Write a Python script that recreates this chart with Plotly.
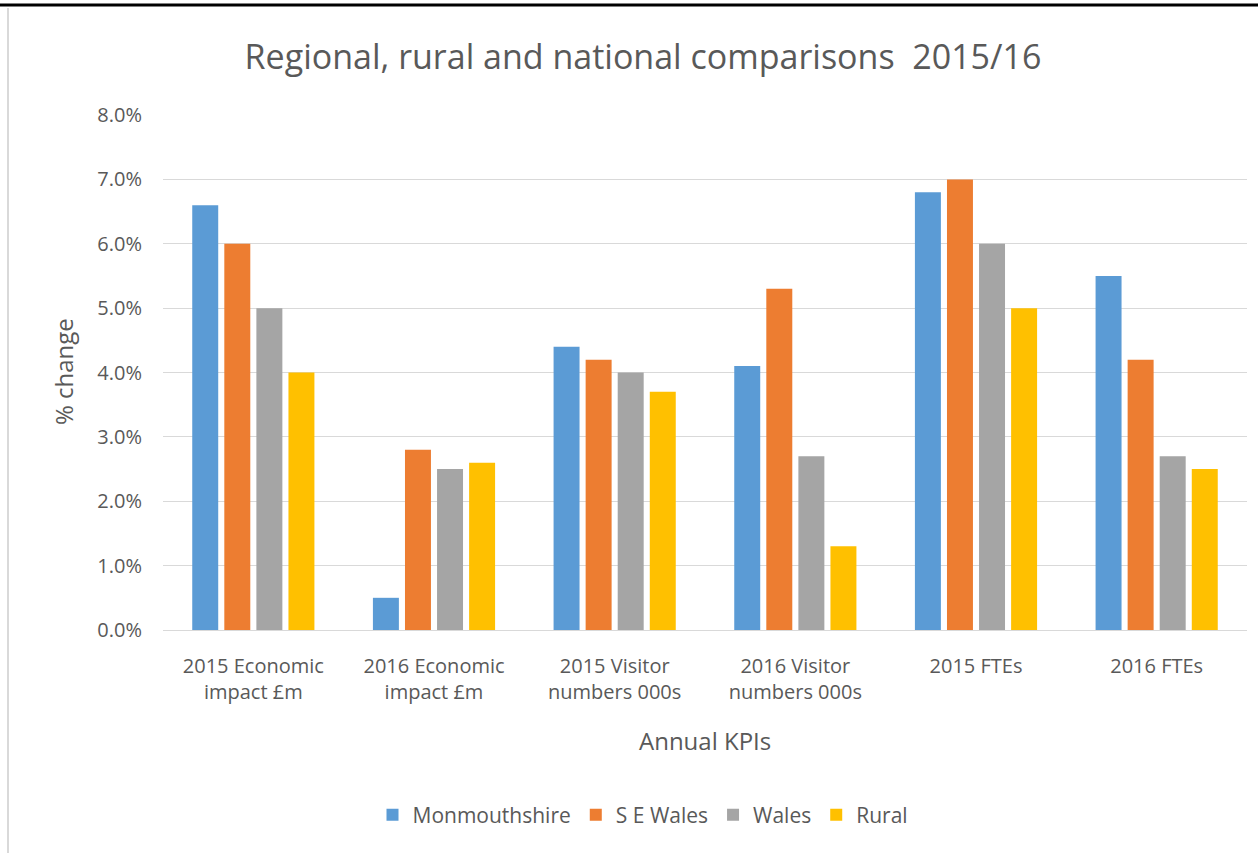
import plotly.graph_objects as go

categories = ["2015 Economic<br>impact £m", "2016 Economic<br>impact £m",
              "2015 Visitor<br>numbers 000s", "2016 Visitor<br>numbers 000s",
              "2015 FTEs", "2016 FTEs"]
monmouthshire = [6.6, 0.5, 4.4, 4.1, 6.8, 5.5]
se_wales = [6.0, 2.8, 4.2, 5.3, 7.0, 4.2]
wales = [5.0, 2.5, 4.0, 2.7, 6.0, 2.7]
rural = [4.0, 2.6, 3.7, 1.3, 5.0, 2.5]
series_names = ["Monmouthshire", "S E Wales", "Wales", "Rural"]
colors = ["#5B9BD5", "#ED7D31", "#A5A5A5", "#FFC000"]
y_ticks = [0, 1, 2, 3, 4, 5, 6, 7, 8]

FONT = "Open Sans, Liberation Sans, sans-serif"
TXT = "#595959"

fig = go.Figure()
for name, vals, col in zip(series_names, [monmouthshire, se_wales, wales, rural], colors):
    fig.add_trace(go.Bar(x=categories, y=vals, name=name, marker_color=col,
                         marker_line_width=0))

L, R, T, B = 163, 11, 115, 223
W, H = 1258, 853
pw = W - L - R
ph = H - T - B

fig.update_layout(
    width=W, height=H,
    margin=dict(l=L, r=R, t=T, b=B),
    paper_bgcolor="white", plot_bgcolor="white",
    barmode="group", bargap=0.29, bargroupgap=0.19,
    font=dict(family=FONT, color=TXT, size=20),
    title=dict(text="Regional, rural and national comparisons  2015/16",
               x=643 / W, xanchor="center", y=1 - 57 / H, yanchor="middle",
               font=dict(size=34, color=TXT, family=FONT)),
    xaxis=dict(showgrid=False, showline=True, linecolor="#D9D9D9", linewidth=1,
               ticks="", ticklabelstandoff=18, tickfont=dict(size=20, color=TXT)),
    yaxis=dict(range=[0, 8], tickvals=y_ticks, ticktext=[f"{v:.1f}%" for v in y_ticks],
               showgrid=True, gridcolor="#D9D9D9", gridwidth=1, zeroline=False,
               showline=False, ticks="", ticklabelstandoff=20,
               tickfont=dict(size=20, color=TXT)),
    legend=dict(orientation="h", x=(643 - L) / pw, xanchor="center",
                y=(630 - 815) / ph, yanchor="middle",
                font=dict(size=21, color=TXT), itemwidth=30, traceorder="normal"),
    showlegend=True,
    annotations=[
        dict(text="% change", xref="paper", yref="paper",
             x=(63 - L) / pw, y=(630 - 372) / ph, textangle=-90,
             showarrow=False, xanchor="center", yanchor="middle",
             font=dict(size=24, color=TXT)),
        dict(text="Annual KPIs", xref="paper", yref="paper",
             x=(705 - L) / pw, y=(630 - 740) / ph,
             showarrow=False, xanchor="center", yanchor="middle",
             font=dict(size=24, color=TXT)),
    ],
    shapes=[
        dict(type="line", xref="paper", yref="paper",
             x0=(0 - L) / pw, x1=(W - L) / pw, y0=(630 - 5) / ph, y1=(630 - 5) / ph,
             line=dict(color="black", width=3)),
        dict(type="line", xref="paper", yref="paper",
             x0=(8 - L) / pw, x1=(8 - L) / pw, y0=(630 - 8) / ph, y1=(630 - H) / ph,
             line=dict(color="#D9D9D9", width=2)),
    ],
)

fig.write_html("out.html", config={"displayModeBar": False},
               post_script="document.body.style.margin='0';")
